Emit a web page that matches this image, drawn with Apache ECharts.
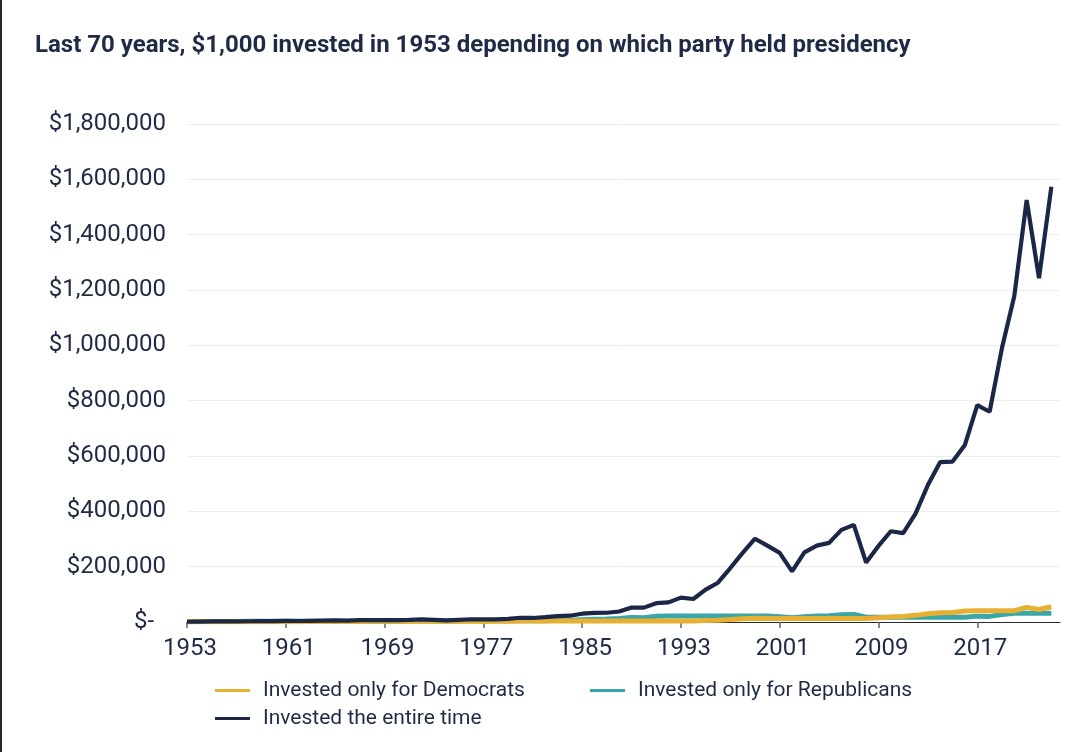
<!DOCTYPE html>
<html>
<head>
<meta charset="utf-8">
<script src="https://cdn.jsdelivr.net/npm/echarts@6/dist/echarts.min.js"></script>
<style>
  html, body { margin: 0; padding: 0; background: #ffffff; }
  #chart { width: 1088px; height: 752px; }
  #edge { position: absolute; left: 0; top: 0; width: 2px; height: 752px; background: #262626; z-index: 5; }
</style>
</head>
<body>
<div id="edge"></div>
<div id="chart"></div>
<script>
const years = [1953,1954,1955,1956,1957,1958,1959,1960,1961,1962,1963,1964,1965,1966,1967,1968,1969,1970,1971,1972,1973,1974,1975,1976,1977,1978,1979,1980,1981,1982,1983,1984,1985,1986,1987,1988,1989,1990,1991,1992,1993,1994,1995,1996,1997,1998,1999,2000,2001,2002,2003,2004,2005,2006,2007,2008,2009,2010,2011,2012,2013,2014,2015,2016,2017,2018,2019,2020,2021,2022,2023];

const democrats = [1000,1000,1000,1000,1000,1000,1000,1000,
  1270,1160,1420,1650,1850,1670,2070,2290,
  2290,2290,2290,2290,2290,2290,2290,2290,
  2130,2270,2690,3540,
  3540,3540,3540,3540,3540,3540,3540,3540,3540,3540,3540,3540,
  3890,3950,5410,6640,8840,11340,13710,12470,
  12470,12470,12470,12470,12470,12470,12470,12470,
  15710,18500,19500,24000,30000,33500,34500,40000,
  41000,41000,41000,41000,
  53000,45000,55000];

const republicans = [990,1510,2000,2150,1920,2760,3100,3110,
  3110,3110,3110,3110,3110,3110,3110,3110,
  2850,2950,3370,4010,3430,2540,3480,4310,
  4310,4310,4310,4310,
  4110,4950,6060,6430,8440,10000,10580,12330,16210,15710,20460,22000,
  22000,22000,22000,22000,22000,22000,22000,22000,
  19390,15130,19420,21510,22550,26070,27490,17450,
  17450,17450,17450,17450,17450,17450,17450,17450,
  21220,20320,26660,31460,
  31460,31460,31460];

const entireTime = [990,1500,2000,2150,1920,2760,3100,3110,3930,3590,4400,5120,5760,5180,6420,7110,6520,6760,7720,9160,7850,5820,7970,9870,9180,9780,11590,15270,14550,17530,21440,22760,30000,33000,33500,38000,52000,52000,68000,71000,88000,83000,117000,142000,195000,250000,301000,276000,250000,183000,252000,276000,286000,333000,351000,215000,275000,328000,321000,392000,495000,578000,580000,640000,784000,760000,990000,1178000,1525000,1243000,1573000];

const xTickLabels = [1953,1961,1969,1977,1985,1993,2001,2009,2017];
const yTicks = [0,200000,400000,600000,800000,1000000,1200000,1400000,1600000,1800000];

const seriesNames = ['Invested only for Democrats','Invested only for Republicans','Invested the entire time'];
const colors = ['#E8B032','#3AA6A8','#1B2747'];
const textColor = '#1E2A46';
const font = 'Roboto';

const pair = arr => years.map((y, i) => [y, arr[i]]);

const legendText = { fontFamily: font, fontSize: 21, color: textColor, padding: [0,0,0,8] };

const chart = echarts.init(document.getElementById('chart'), null, {renderer: 'canvas'});
chart.setOption({
  animation: false,
  backgroundColor: '#ffffff',
  textStyle: { fontFamily: font },
  title: {
    text: 'Last 70 years, $1,000 invested in 1953 depending on which party held presidency',
    left: 30, top: 29,
    textStyle: { fontFamily: font, fontSize: 24, fontWeight: 'bold', color: textColor }
  },
  legend: [
    { data: [seriesNames[0]], left: 210, top: 675, icon: 'rect', itemWidth: 35, itemHeight: 3, textStyle: legendText },
    { data: [seriesNames[1]], left: 585, top: 675, icon: 'rect', itemWidth: 35, itemHeight: 3, textStyle: legendText },
    { data: [seriesNames[2]], left: 210, top: 703, icon: 'rect', itemWidth: 35, itemHeight: 3, textStyle: legendText }
  ],
  grid: { left: 187, right: 28, top: 124, bottom: 130, containLabel: false },
  xAxis: {
    type: 'value',
    min: 1953, max: 2023.7,
    axisLine: { show: true, lineStyle: { color: '#2b2b2b', width: 1 } },
    axisTick: { show: true, length: 6, customValues: xTickLabels, lineStyle: { color: '#5a6378', width: 1.5 } },
    axisLabel: { customValues: xTickLabels, formatter: v => String(v), fontFamily: font, fontSize: 24, color: textColor, margin: 15, padding: [0,0,0,6] },
    splitLine: { show: false }
  },
  yAxis: {
    type: 'value',
    min: 0, max: 1800000, interval: 200000,
    axisLine: { show: false },
    axisTick: { show: false },
    axisLabel: {
      fontFamily: font, fontSize: 24, color: textColor, margin: 21,
      formatter: v => v === 0 ? '$-  ' : '$' + v.toLocaleString('en-US')
    },
    splitLine: { show: true, lineStyle: { color: '#ededed', width: 1 } }
  },
  series: [
    { name: seriesNames[1], type: 'line', data: pair(republicans), showSymbol: false, symbol: 'none',
      lineStyle: { color: colors[1], width: 5 }, itemStyle: { color: colors[1] }, z: 2 },
    { name: seriesNames[0], type: 'line', data: pair(democrats), showSymbol: false, symbol: 'none',
      lineStyle: { color: colors[0], width: 5 }, itemStyle: { color: colors[0] }, z: 3 },
    { name: seriesNames[2], type: 'line', data: pair(entireTime), showSymbol: false, symbol: 'none',
      lineStyle: { color: colors[2], width: 4.2 }, itemStyle: { color: colors[2] }, z: 4 }
  ]
});
</script>
</body>
</html>
